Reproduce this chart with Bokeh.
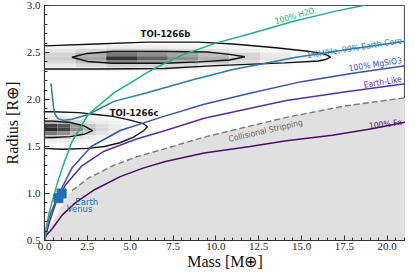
from bokeh.plotting import figure
from bokeh.models import FixedTicker, NumeralTickFormatter, Range1d
from bokeh.core.properties import value
from bokeh.embed import file_html
from bokeh.resources import INLINE

# ---------------- data ----------------
h2o_m = [0.02, 0.1, 0.25, 0.47, 0.75, 1.03, 1.6, 2.54, 4.05, 6.4, 8.0, 10.0, 12.0, 14.5, 17.0, 18.6, 19.0]
h2o_r = [0.5, 0.62, 0.78, 0.93, 1.11, 1.27, 1.55, 1.84, 2.07, 2.33, 2.47, 2.6, 2.7, 2.83, 2.94, 3.0, 3.02]

hhe_m = [0.38, 0.45, 0.52, 0.62, 0.8, 1.1, 1.6, 2.54, 4.05, 5.93, 8.66, 11.0, 14.7, 18.0, 21.1]
hhe_r = [2.17, 2.05, 1.93, 1.84, 1.795, 1.78, 1.79, 1.84, 1.98, 2.07, 2.21, 2.32, 2.45, 2.54, 2.62]

mgs_m = [0.0, 0.1, 0.38, 0.85, 1.6, 2.73, 4.42, 6.78, 9.32, 12.05, 15.0, 18.0, 21.1]
mgs_r = [0.5, 0.63, 0.8, 1.0, 1.27, 1.5, 1.67, 1.81, 1.95, 2.07, 2.19, 2.28, 2.36]

earth_m = [0.0, 0.28, 0.66, 1.22, 2.16, 3.48, 5.37, 7.06, 9.32, 14.12, 17.5, 21.1]
earth_r = [0.5, 0.69, 0.9, 1.09, 1.29, 1.45, 1.58, 1.67, 1.8, 1.99, 2.08, 2.17]

cs_m = [1.6, 2.54, 4.05, 5.37, 6.9, 9.32, 14.12, 17.5, 21.1]
cs_r = [1.03, 1.16, 1.30, 1.39, 1.47, 1.6, 1.81, 1.93, 2.02]
cs_low_m = [0.0, 0.5, 1.0]
cs_low_r = [0.5, 0.7, 0.87]

fe_m = [0.0, 0.08, 0.47, 1.03, 1.79, 2.92, 4.42, 5.75, 7.06, 9.32, 12.0, 14.12, 16.8, 19.1, 21.1]
fe_r = [0.5, 0.55, 0.63, 0.77, 0.90, 1.04, 1.18, 1.27, 1.34, 1.43, 1.5, 1.56, 1.62, 1.69, 1.76]

# TOI-1266b posterior (2D histogram)
b_m_edges = [0.0, 1.8, 3.6, 5.4, 7.2, 9.0, 10.8, 12.6, 14.4, 16.2]
b_r_edges = [2.58, 2.54, 2.50, 2.46, 2.42, 2.38, 2.34, 2.30]
b_dens = [
    [0.05, 0.05, 0.08, 0.08, 0.06, 0.05, 0.03, 0.02, 0.00],
    [0.12, 0.18, 0.25, 0.22, 0.18, 0.12, 0.08, 0.04, 0.02],
    [0.20, 0.35, 0.60, 0.50, 0.40, 0.28, 0.18, 0.10, 0.04],
    [0.22, 0.40, 0.90, 0.70, 0.50, 0.35, 0.20, 0.12, 0.05],
    [0.18, 0.30, 0.55, 0.45, 0.35, 0.25, 0.15, 0.08, 0.03],
    [0.10, 0.15, 0.22, 0.20, 0.15, 0.10, 0.06, 0.03, 0.01],
    [0.04, 0.05, 0.08, 0.07, 0.05, 0.04, 0.02, 0.01, 0.00],
]
b_out_m = [-1.0, 0.0, 3.0, 6.0, 9.0, 11.0, 13.5, 15.5, 16.4, 16.7, 16.4, 16.0, 14.0, 10.0, 7.0, 3.0, 0.0, -1.0]
b_out_r = [2.57, 2.57, 2.59, 2.61, 2.61, 2.59, 2.55, 2.51, 2.48, 2.45, 2.425, 2.41, 2.39, 2.36, 2.33, 2.325, 2.325, 2.325]
b_in_m = [1.6, 2.5, 4.0, 7.0, 9.5, 10.8, 11.7, 10.8, 9.0, 7.0, 4.0, 2.5, 1.6]
b_in_r = [2.45, 2.49, 2.51, 2.51, 2.505, 2.48, 2.455, 2.42, 2.40, 2.385, 2.385, 2.405, 2.45]

# TOI-1266c posterior (2D histogram)
c_m_edges = [0.0, 0.75, 1.5, 2.25, 3.0, 3.75, 4.5, 5.25]
c_r_edges = [1.86, 1.82, 1.78, 1.74, 1.70, 1.66, 1.62, 1.58, 1.54, 1.50]
c_dens = [
    [0.03, 0.03, 0.02, 0.02, 0.01, 0.01, 0.00],
    [0.10, 0.10, 0.07, 0.05, 0.04, 0.02, 0.01],
    [0.35, 0.30, 0.20, 0.12, 0.08, 0.05, 0.02],
    [0.85, 0.75, 0.45, 0.25, 0.15, 0.08, 0.04],
    [0.95, 0.85, 0.50, 0.30, 0.18, 0.10, 0.05],
    [0.60, 0.50, 0.30, 0.20, 0.12, 0.07, 0.03],
    [0.25, 0.20, 0.14, 0.10, 0.06, 0.04, 0.02],
    [0.08, 0.07, 0.05, 0.04, 0.03, 0.02, 0.01],
    [0.03, 0.03, 0.02, 0.02, 0.01, 0.01, 0.00],
]
c_out_m = [-1.0, 0.5, 2.0, 3.0, 4.0, 5.0, 5.8, 6.0, 5.8, 5.2, 4.4, 3.5, 2.5, 1.0, 0.0, -1.0]
c_out_r = [1.87, 1.87, 1.86, 1.84, 1.82, 1.78, 1.74, 1.71, 1.67, 1.60, 1.54, 1.50, 1.48, 1.47, 1.48, 1.48]
c_in_m = [-1.0, 0.5, 1.5, 2.3, 2.8, 2.3, 1.5, 0.5, -1.0]
c_in_r = [1.77, 1.77, 1.755, 1.72, 1.67, 1.63, 1.605, 1.595, 1.595]

planet_m = [1.0, 0.815]
planet_r = [1.0, 0.95]
planet_names = ["Earth", "Venus"]

x_ticks = [0.0, 2.5, 5.0, 7.5, 10.0, 12.5, 15.0, 17.5, 20.0]
y_ticks = [0.5, 1.0, 1.5, 2.0, 2.5, 3.0]

# ---------------- figure ----------------
p = figure(width=405, height=272, output_backend="svg", toolbar_location=None,
           x_range=Range1d(0, 21.07), y_range=Range1d(0.5, 3.0),
           min_border_left=32, min_border_right=0, min_border_top=5, min_border_bottom=31)
p.background_fill_color = "white"
p.border_fill_color = "white"
p.outline_line_color = "#555555"
p.outline_line_width = 1.2
p.grid.visible = False

serif = "Liberation Serif"
cond = "DejaVu Sans Condensed"

for ax in (p.xaxis[0], p.yaxis[0]):
    ax.major_tick_in = 5
    ax.major_tick_out = 0
    ax.minor_tick_in = 3
    ax.minor_tick_out = 0
    ax.axis_line_color = "#333333"
    ax.major_tick_line_color = "#333333"
    ax.minor_tick_line_color = "#333333"
    ax.major_label_text_font = serif
    ax.major_label_text_font_size = "11px"
    ax.major_label_text_color = "#222222"
    ax.axis_label_text_font = serif
    ax.axis_label_text_font_style = "normal"
    ax.axis_label_text_font_size = "16px"
    ax.axis_label_text_color = "#111111"
    ax.formatter = NumeralTickFormatter(format="0.0")

p.xaxis[0].ticker = FixedTicker(ticks=x_ticks, minor_ticks=[i * 0.5 for i in range(0, 43)])
p.yaxis[0].ticker = FixedTicker(ticks=y_ticks, minor_ticks=[0.5 + i * 0.1 for i in range(0, 26)])
p.xaxis[0].axis_label = "Mass [M\u2295]"
p.yaxis[0].axis_label = "Radius [R\u2295]"
p.xaxis[0].major_label_standoff = 2
p.xaxis[0].axis_label_standoff = 0
p.yaxis[0].major_label_standoff = 4
p.yaxis[0].axis_label_standoff = 3

# collisional stripping shaded region
fill_x = cs_low_m + cs_m + [21.1]
fill_y = cs_low_r + cs_r + [0.5]
p.patch(fill_x + [0.0], fill_y + [0.5], fill_color="#e0e0e0", line_color=None)


def gray(d):
    g = int(round(255 * (1 - 0.88 * d)))
    return "#%02x%02x%02x" % (g, g, g)


def hist(m_edges, r_edges, dens):
    L, R, T, B, C = [], [], [], [], []
    for i, row in enumerate(dens):
        for j, d in enumerate(row):
            L.append(m_edges[j]); R.append(m_edges[j + 1])
            T.append(r_edges[i]); B.append(r_edges[i + 1])
            C.append(gray(d))
    p.quad(left=L, right=R, top=T, bottom=B, fill_color=C, line_color=None)


hist(b_m_edges, b_r_edges, b_dens)
hist(c_m_edges, c_r_edges, c_dens)

for xs, ys in [(b_out_m, b_out_r), (b_in_m, b_in_r), (c_out_m, c_out_r), (c_in_m, c_in_r)]:
    p.line(xs, ys, line_color="#111111", line_width=1.4)

# composition curves
p.line(cs_m, cs_r, line_color="#7a7a7a", line_width=1.4, line_dash="6 3")
p.line(fe_m, fe_r, line_color="#4a0c6b", line_width=1.5)
p.line(earth_m, earth_r, line_color="#57309a", line_width=1.5)
p.line(mgs_m, mgs_r, line_color="#3b53a4", line_width=1.5)
p.line(hhe_m, hhe_r, line_color="#2a7da3", line_width=1.5)
p.line(h2o_m, h2o_r, line_color="#22b07d", line_width=1.5)

# Earth & Venus
p.scatter(planet_m, planet_r, marker="square", size=9, fill_color="#1f6fb2", line_color="#1f6fb2")
p.text(x=[1.8, 1.3], y=[0.915, 0.84], text=planet_names, text_font=value(cond),
       text_font_size="9.5px", text_color="#1f6fb2", text_align="left", text_baseline="middle")


# labels
def lab(x, y, t, color, ang, size="8.5px", style="normal", align="center"):
    p.text(x=[x], y=[y], text=[t], angle=ang, angle_units="deg", text_font=value(cond),
           text_font_size=size, text_color=color, text_align=align, text_baseline="middle",
           text_font_style=style)


lab(14.6, 2.89, "100% H2O", "#22b07d", 16)
lab(20.85, 2.63, "1%H/He, 99% Earth-Core", "#2a7da3", 9, align="right")
lab(20.85, 2.42, "100% MgSiO3", "#3b53a4", 9, align="right")
lab(20.85, 2.22, "Earth-Like", "#57309a", 9, align="right")
lab(12.9, 1.67, "Collisional Stripping", "#666666", 13)
lab(20.85, 1.76, "100% Fe", "#4a0c6b", 7, align="right")
lab(7.06, 2.70, "TOI-1266b", "#111111", 0, "9.5px", "bold")
lab(5.23, 1.86, "TOI-1266c", "#111111", 0, "9.5px", "bold")

open("out.html", "w").write(file_html(p, INLINE))
